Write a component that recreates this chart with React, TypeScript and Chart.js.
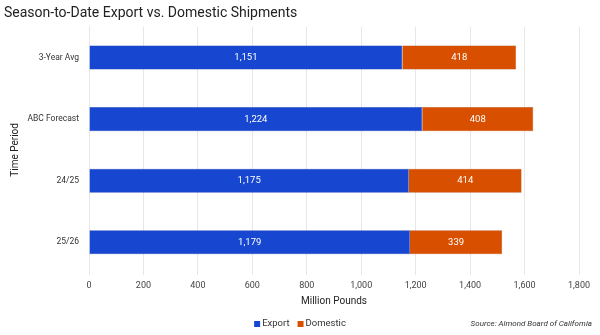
import React, { useEffect, useRef } from "react";
import { Chart, registerables } from "chart.js";

Chart.register(...registerables);

const categories = ["3-Year Avg", "ABC Forecast", "24/25", "25/26"];
const exportValues = [1151, 1224, 1175, 1179];
const domesticValues = [418, 408, 414, 339];
const xTicks = [0, 200, 400, 600, 800, 1000, 1200, 1400, 1600, 1800];

const FONT = "Roboto, 'Noto Sans', sans-serif";

const labelPlugin = {
  id: "barLabels",
  afterDatasetsDraw(chart: any) {
    const ctx = chart.ctx;
    ctx.save();
    ctx.fillStyle = "#ffffff";
    ctx.font = `9.5px ${FONT}`;
    ctx.textAlign = "center";
    ctx.textBaseline = "middle";
    chart.data.datasets.forEach((ds: any, di: number) => {
      const meta = chart.getDatasetMeta(di);
      meta.data.forEach((bar: any, i: number) => {
        const v = ds.data[i];
        const cx = (bar.x + bar.base) / 2;
        ctx.fillText(v.toLocaleString("en-US"), cx, bar.y);
      });
    });
    ctx.restore();
  },
};

// Bottom legend + source note
const footerPlugin = {
  id: "footer",
  afterDraw(chart: any) {
    const ctx = chart.ctx;
    ctx.save();
    const y = 324;
    ctx.font = `9.5px ${FONT}`;
    ctx.textBaseline = "middle";
    ctx.textAlign = "left";
    const box = 6;
    const gap = 2;
    const itemGap = 8;
    const items = chart.data.datasets.map((ds: any) => ({
      label: ds.label,
      color: ds.backgroundColor,
      w: box + gap + ctx.measureText(ds.label).width,
    }));
    const total = items.reduce((s: number, it: any) => s + it.w, 0) + itemGap * (items.length - 1);
    let x = 300 - total / 2;
    items.forEach((it: any) => {
      ctx.fillStyle = it.color;
      ctx.fillRect(x, y - box / 2, box, box);
      ctx.fillStyle = "#333333";
      ctx.fillText(it.label, x + box + gap, y);
      x += it.w + itemGap;
    });
    ctx.fillStyle = "#333333";
    ctx.font = `italic 8px ${FONT}`;
    ctx.textAlign = "right";
    ctx.fillText("Source: Almond Board of California", 592, y);
    ctx.restore();
  },
};

export default function App() {
  const ref = useRef<HTMLCanvasElement>(null);
  useEffect(() => {
    if (!ref.current) return;
    const chart = new Chart(ref.current, {
      type: "bar",
      data: {
        labels: categories,
        datasets: [
          {
            label: "Export",
            data: exportValues,
            backgroundColor: "#1746d0",
            borderColor: "#1a3aa8",
            borderWidth: 0.5,
            barPercentage: 0.39,
            categoryPercentage: 1,
          },
          {
            label: "Domestic",
            data: domesticValues,
            backgroundColor: "#d94f00",
            borderColor: "#a8441a",
            borderWidth: 0.5,
            barPercentage: 0.39,
            categoryPercentage: 1,
          },
        ],
      },
      plugins: [labelPlugin, footerPlugin],
      options: {
        indexAxis: "y",
        animation: false,
        responsive: false,
        maintainAspectRatio: false,
        layout: { padding: { left: 4, right: 4, top: 0, bottom: 0 } },
        plugins: {
          title: {
            display: true,
            text: "Season-to-Date Export vs. Domestic Shipments",
            align: "start",
            color: "#222222",
            font: { family: FONT, size: 14, weight: "normal" },
            padding: { top: 5, bottom: 5 },
          },
          legend: { display: false },
          tooltip: { enabled: false },
        },
        scales: {
          x: {
            stacked: true,
            min: 0,
            max: 1800,
            afterBuildTicks: (axis: any) => {
              axis.ticks = xTicks.map((v) => ({ value: v }));
            },
            ticks: {
              color: "#444444",
              font: { family: FONT, size: 9, lineHeight: 1 },
              padding: 6,
              callback: (v: any) => Number(v).toLocaleString("en-US"),
            },
            grid: { color: "#e6e6e6", drawTicks: true, tickLength: 2 },
            border: { display: false },
            title: {
              display: true,
              text: "Million Pounds",
              color: "#222222",
              font: { family: FONT, size: 10, lineHeight: 1 },
              padding: { top: 0, bottom: 29 },
            },
          },
          y: {
            stacked: true,
            afterFit: (axis: any) => {
              axis.width = 85;
            },
            ticks: {
              color: "#333333",
              font: { family: FONT, size: 8.5 },
              padding: 2,
            },
            grid: { display: false },
            border: { display: true, color: "#e6e6e6" },
            title: {
              display: true,
              text: "Time Period",
              color: "#222222",
              font: { family: FONT, size: 10 },
              padding: { top: 5, bottom: 0 },
            },
          },
          yRight: {
            type: "linear",
            position: "right",
            display: true,
            afterFit: (axis: any) => {
              axis.width = 17;
            },
            ticks: { display: false },
            grid: { display: false },
            border: { display: false },
          },
        },
      },
    } as any);
    return () => chart.destroy();
  }, []);
  return (
    <div style={{ position: "absolute", left: 0, top: 0, width: 600, height: 335, background: "#ffffff" }}>
      <canvas ref={ref} width={600} height={335} style={{ display: "block" }} />
    </div>
  );
}
